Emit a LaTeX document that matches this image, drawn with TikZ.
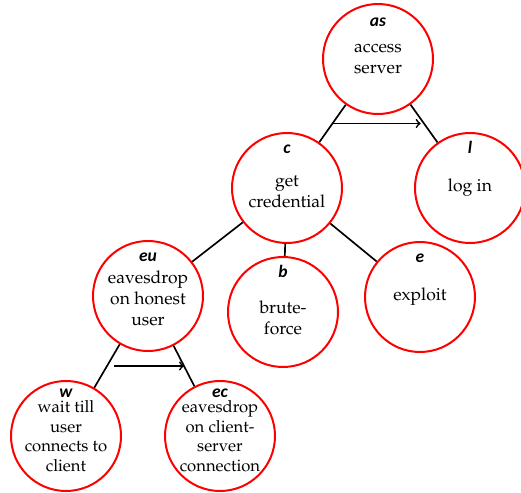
\documentclass[tikz,border=0pt]{standalone}
\usepackage[T1]{fontenc}
\usepackage{fontspec}
\usepackage{tikz}
\usetikzlibrary{arrows}
\usetikzlibrary{positioning}
\newfontfamily\tagfont{Carlito}
\newcommand{\bodyfont}{\fontencoding{T1}\fontfamily{ppl}\fontsize{10.5}{12.6}\selectfont}
\newcommand{\smallbodyfont}{\fontencoding{T1}\fontfamily{ppl}\fontsize{10}{11.8}\selectfont}

\begin{document}
\begin{tikzpicture}[-,x=0.6pt,y=-0.6pt,on grid,
			thick,main node/.style={circle,draw=red,line width=1.2pt,
				font=\bodyfont,align=center,inner sep=0pt,minimum size=66pt},
			small node/.style={main node,font=\smallbodyfont},
			lower/.style={text height=#1},
			tag font/.style={font=\tagfont\fontsize{10.5}{12}\selectfont\bfseries\itshape},
			tag/.style={label={[tag font,anchor=base,label distance=-13pt]90:#1}},
			high tag/.style={label={[tag font,anchor=base,label distance=-10.4pt]90:#1}}]
			\useasboundingbox (0,0) rectangle (521,493);
			
			\node[main node,label={[tag font,anchor=base,label distance=-14pt]90:as}] (as) at (378,59) {access\\server};
			\node[main node,tag=c,lower=23.2pt] (c) [below left=77.4pt and 54.6pt of as] {get\\credential};
			\node[main node,tag=l] (l) [below right=77.4pt and 55.2pt of as] {log in};
			\node[main node,tag=eu,lower=35.2pt] (eu) [below left=64.8pt and 83.4pt of c] {eavesdrop\\on honest\\user};
			\node[main node,tag=b,lower=27.8pt] (b) [below=74.4pt of c,xshift=-2.4pt] {brute-\\force};
			\node[main node,tag=e] (e) [below right=65.4pt and 79.8pt of c] {exploit};
			\node[small node,high tag=w] (w) [below left=84pt and 49.2pt of eu] {wait till\\user\\connects to\\client};
			\node[small node,high tag=ec] (ec) [below right=84pt and 43.2pt of eu] {eavesdrop\\on client-\\server\\connection};
			
			\path[-,line width=1pt]
			(as) edge coordinate[pos=.5] (as1) (c)
			(as) edge coordinate[pos=.5] (as2) (l)
			(c) edge (eu)
			(c) edge (b)
			(c) edge (e)
			(eu) edge coordinate[pos=.5] (eu1) (w)
			(eu) edge coordinate[pos=.5] (eu2) (ec);
			\draw[->,line width=1pt,shorten >=2pt] (as1) -- (as2);
			\draw[->,line width=1pt,shorten <=4pt] (eu1) -- (eu2);
		\end{tikzpicture}
\end{document}
